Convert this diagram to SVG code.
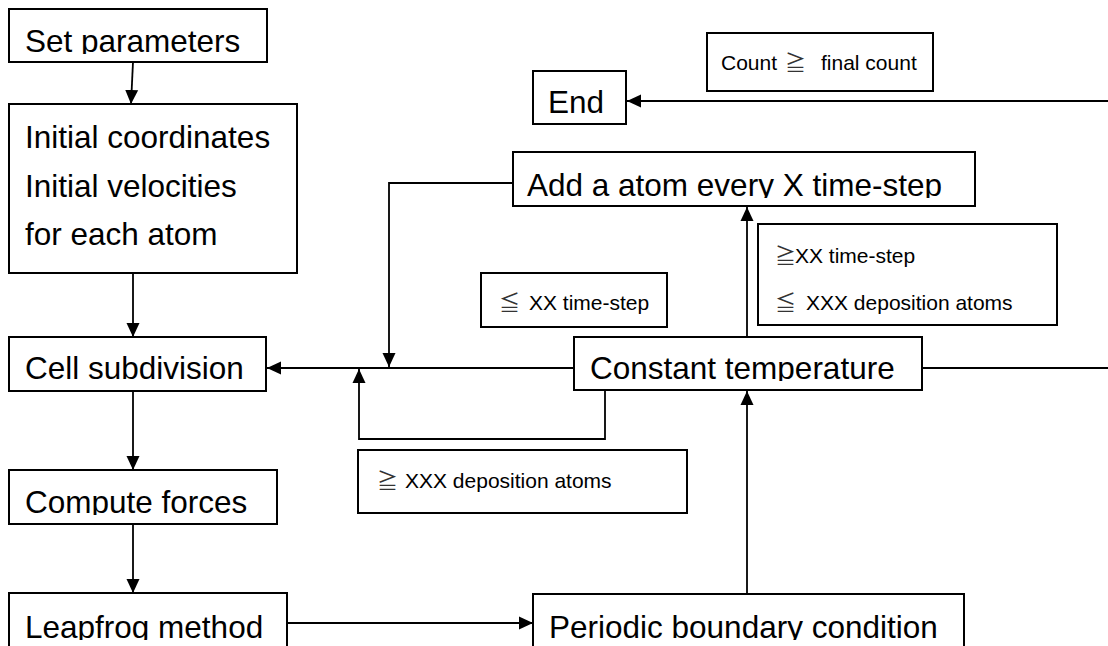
<svg xmlns="http://www.w3.org/2000/svg" width="1108" height="646" viewBox="0 0 1108 646">
<defs>
<marker id="arr" markerUnits="userSpaceOnUse" markerWidth="14" markerHeight="14" viewBox="0 0 14 14" refX="14" refY="7" orient="auto">
<path d="M0,0.5 L14,7 L0,13.5 Z" fill="#000"/>
</marker>
<clipPath id="cSet"><rect x="0" y="0" width="300" height="54"/></clipPath>
<clipPath id="cCompute"><rect x="0" y="470" width="300" height="45"/></clipPath>
<clipPath id="cLeap"><rect x="0" y="593" width="300" height="47"/></clipPath>
<clipPath id="cPer"><rect x="520" y="594" width="460" height="46"/></clipPath>
<clipPath id="cConst"><rect x="560" y="337" width="380" height="44"/></clipPath>
<clipPath id="cAdd"><rect x="500" y="152" width="500" height="46"/></clipPath>
<style>
.box{fill:#fff;stroke:#000;stroke-width:2}
.big{font-family:"Liberation Sans","Noto Sans CJK KR",sans-serif;font-size:31.5px;fill:#000}
.sm{font-family:"Liberation Sans","Noto Sans CJK KR",sans-serif;font-size:21px;fill:#000}
.sym{font-family:"Noto Sans CJK KR",sans-serif;font-size:21px;fill:#333}
.ln{fill:none;stroke:#000;stroke-width:1.8}
</style>
</defs>
<rect width="1108" height="646" fill="#fff"/>
<g id="connectors">
<line class="ln" x1="133" y1="62" x2="131" y2="104" marker-end="url(#arr)"/>
<line class="ln" x1="133" y1="273" x2="133" y2="337" marker-end="url(#arr)"/>
<line class="ln" x1="133" y1="391" x2="133" y2="470" marker-end="url(#arr)"/>
<line class="ln" x1="133" y1="524" x2="133" y2="593" marker-end="url(#arr)"/>
<line class="ln" x1="287" y1="623" x2="533" y2="623" marker-end="url(#arr)"/>
<line class="ln" x1="574" y1="368" x2="267" y2="368" marker-end="url(#arr)"/>
<line class="ln" x1="922" y1="368" x2="1108" y2="368"/>
<line class="ln" x1="747" y1="594" x2="747" y2="391" marker-end="url(#arr)"/>
<line class="ln" x1="747" y1="337" x2="747" y2="207" marker-end="url(#arr)"/>
<polyline class="ln" points="513,183 389,183 389,367" marker-end="url(#arr)"/>
<polyline class="ln" points="605,390 605,439 359,439 359,369" marker-end="url(#arr)"/>
<line class="ln" x1="1108" y1="101" x2="627" y2="101" marker-end="url(#arr)"/>
</g>
<g id="set-parameters">
<rect class="box" x="9" y="9" width="258" height="53"/>
<text class="big" x="25" y="52" clip-path="url(#cSet)">Set parameters</text>
</g>
<g id="initial">
<rect class="box" x="9" y="104" width="288" height="169"/>
<text class="big" x="25" y="148">Initial coordinates</text>
<text class="big" x="25" y="197">Initial velocities</text>
<text class="big" x="25" y="245">for each atom</text>
</g>
<g id="cell-subdivision">
<rect class="box" x="9" y="337" width="257" height="54"/>
<text class="big" x="25" y="379">Cell subdivision</text>
</g>
<g id="compute-forces">
<rect class="box" x="9" y="470" width="268" height="54"/>
<text class="big" x="25" y="513" clip-path="url(#cCompute)">Compute forces</text>
</g>
<g id="leapfrog">
<rect class="box" x="9" y="593" width="278" height="70"/>
<text class="big" x="25" y="638" clip-path="url(#cLeap)">Leapfrog method</text>
</g>
<g id="periodic">
<rect class="box" x="533" y="594" width="431" height="70"/>
<text class="big" x="549" y="638" clip-path="url(#cPer)">Periodic boundary condition</text>
</g>
<g id="constant-temperature">
<rect class="box" x="574" y="337" width="348" height="53"/>
<text class="big" x="590" y="379" clip-path="url(#cConst)">Constant temperature</text>
</g>
<g id="add-atom">
<rect class="box" x="513" y="152" width="462" height="54"/>
<text class="big" x="527" y="196" clip-path="url(#cAdd)">Add a atom every X time-step</text>
</g>
<g id="end">
<rect class="box" x="533" y="71" width="93" height="53"/>
<text class="big" x="548" y="113">End</text>
</g>
<g id="count-label">
<rect class="box" x="707" y="33" width="226" height="58"/>
<text class="sm" x="721" y="70">Count</text>
<text class="sym" x="785" y="70">≧</text>
<text class="sm" x="821" y="70">final count</text>
</g>
<g id="le-xx-label">
<rect class="box" x="481" y="273" width="186" height="54"/>
<text class="sym" x="499" y="310">≦</text>
<text class="sm" x="529" y="310">XX time-step</text>
</g>
<g id="ge-xx-label">
<rect class="box" x="758" y="224" width="299" height="101"/>
<text class="sym" x="775" y="263">≧</text>
<text class="sm" x="795" y="263">XX time-step</text>
<text class="sym" x="775" y="310">≦</text>
<text class="sm" x="806" y="310">XXX deposition atoms</text>
</g>
<g id="ge-xxx-label">
<rect class="box" x="358" y="450" width="329" height="63"/>
<text class="sym" x="377" y="488">≧</text>
<text class="sm" x="405" y="488">XXX deposition atoms</text>
</g>
</svg>
